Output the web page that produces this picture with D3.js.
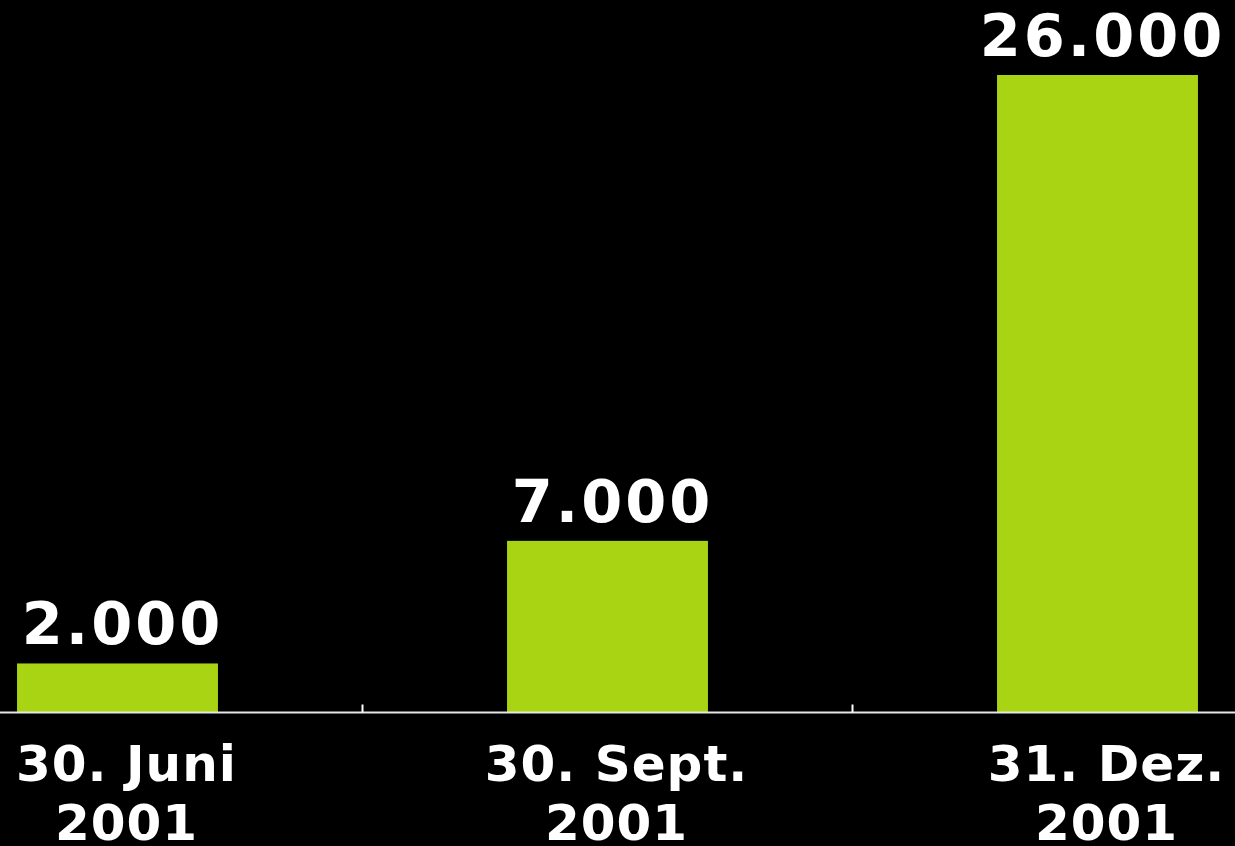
<!DOCTYPE html>
<html>
<head>
<meta charset="utf-8">
<script src="https://cdn.jsdelivr.net/npm/d3@7"></script>
<style>
  html, body { margin: 0; padding: 0; background: #000; overflow: hidden; }
  svg { display: block; }
</style>
</head>
<body>
<svg id="chart" width="1235" height="846"></svg>
<script>
const categories = [["30. Juni", "2001"], ["30. Sept.", "2001"], ["31. Dez.", "2001"]];
const values = [2000, 7000, 26000];
const valueLabels = ["2.000", "7.000", "26.000"];

const W = 1235, H = 846;
const svg = d3.select("#chart");
svg.append("rect").attr("width", W).attr("height", H).attr("fill", "#000");

const keys = categories.map((c, i) => i);
const x = d3.scaleBand().domain(keys).range([-127.5, 1342.5]).paddingInner(0.59).paddingOuter(0.295);
const y = d3.scaleLinear().domain([0, 26000]).range([712.5, 75]);

const font = "'DejaVu Sans', Verdana, sans-serif";

// bars
svg.selectAll("rect.bar").data(values).join("rect")
  .attr("class", "bar")
  .attr("x", (d, i) => x(i))
  .attr("width", x.bandwidth())
  .attr("y", d => y(d))
  .attr("height", d => y(0) - y(d))
  .attr("fill", "#a8d414");

// axis line
svg.append("line")
  .attr("x1", 0).attr("x2", W)
  .attr("y1", y(0)).attr("y2", y(0))
  .attr("stroke", "#e6e6e6").attr("stroke-width", 2);

// ticks between categories
const step = x.step();
const tickPos = d3.range(1, categories.length).map(i => x(i) - x.paddingInner() * step / 2);
svg.selectAll("line.tick").data(tickPos).join("line")
  .attr("class", "tick")
  .attr("x1", d => d).attr("x2", d => d)
  .attr("y1", y(0) - 8).attr("y2", y(0))
  .attr("stroke", "#ffffff").attr("stroke-width", 2);

// value labels
svg.selectAll("text.val").data(values).join("text")
  .attr("class", "val")
  .attr("x", (d, i) => x(i) + x.bandwidth() / 2 + 5)
  .attr("y", d => y(d) - 19)
  .attr("text-anchor", "middle")
  .attr("fill", "#fff")
  .attr("font-family", font)
  .attr("font-weight", "bold")
  .attr("font-size", 59)
  .attr("letter-spacing", 3)
  .text((d, i) => valueLabels[i]);

// category labels
const cat = svg.selectAll("text.cat").data(categories).join("text")
  .attr("class", "cat")
  .attr("text-anchor", "middle")
  .attr("fill", "#fff")
  .attr("font-family", font)
  .attr("font-weight", "bold")
  .attr("font-size", 50)
  .attr("letter-spacing", 1);
cat.each(function(d, i) {
  const t = d3.select(this);
  d.forEach((line, j) => {
    t.append("tspan")
      .attr("x", x(i) + x.bandwidth() / 2 + 9)
      .attr("y", 781 + j * 59)
      .text(line);
  });
});
</script>
</body>
</html>
